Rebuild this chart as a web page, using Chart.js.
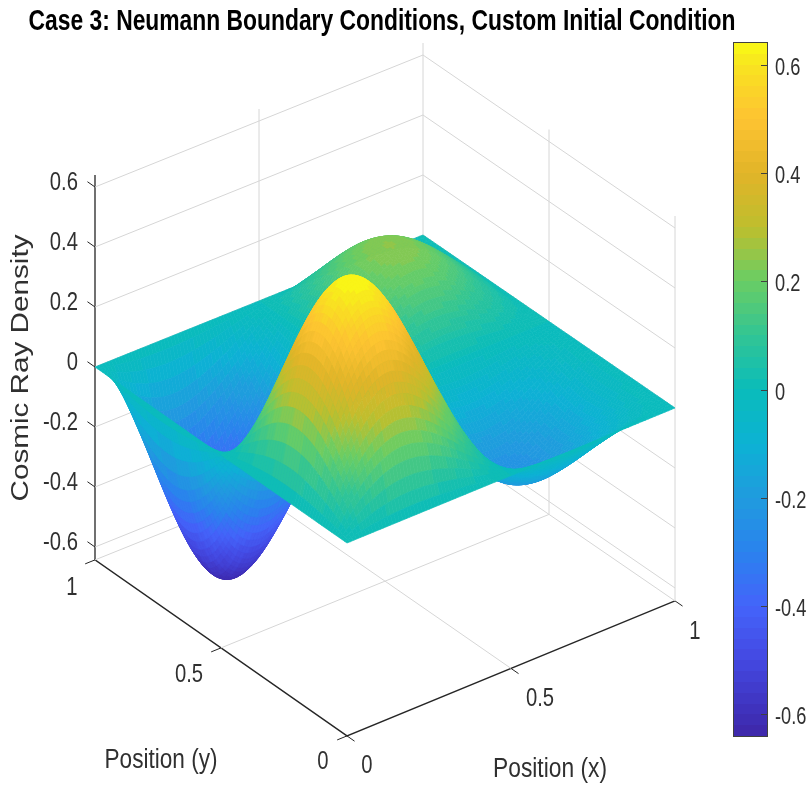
<!DOCTYPE html>
<html>
<head>
<meta charset="utf-8">
<style>
  html, body { margin: 0; padding: 0; background: #fff; }
  #wrap { position: relative; width: 809px; height: 785px; overflow: hidden; }
  canvas { position: absolute; top: 0; }
  #surf { left: 0; }
  #cbar { left: 700px; }
</style>
<script src="https://cdn.jsdelivr.net/npm/chart.js@4/dist/chart.umd.min.js"></script>
</head>
<body>
<div id="wrap">
  <canvas id="surf" width="809" height="785"></canvas>
  <canvas id="cbar" width="109" height="785"></canvas>
</div>
<script>
const titleText = "Case 3: Neumann Boundary Conditions, Custom Initial Condition";
const xLabel = "Position (x)";
const yLabel = "Position (y)";
const zLabel = "Cosmic Ray Density";

const xTicks = [0, 0.5, 1];
const yTicks = [0, 0.5, 1];
const zTicks = [-0.6, -0.4, -0.2, 0, 0.2, 0.4, 0.6];
const colorbarTicks = [-0.6, -0.4, -0.2, 0, 0.2, 0.4, 0.6];
const zMin = -0.643;
const zMax = 0.64;

// rows are x = 0, 0.05 .. 1 and columns y = 0, 0.05 .. 1
const surfaceZ = [
  [0,0,0,0,0,0,0,0,0,0,0,0,0,0,0,0,0,0,0,0,0],
  [0,.083,.158,.218,.256,.269,.256,.218,.158,.083,0,-.083,-.158,-.218,-.256,-.269,-.256,-.218,-.158,-.083,0],
  [0,.145,.276,.380,.447,.470,.447,.380,.276,.145,0,-.145,-.276,-.380,-.447,-.470,-.447,-.380,-.276,-.145,0],
  [0,.184,.350,.481,.566,.595,.566,.481,.350,.184,0,-.184,-.350,-.481,-.566,-.595,-.566,-.481,-.350,-.184,0],
  [0,.199,.378,.520,.611,.643,.611,.520,.378,.199,0,-.199,-.378,-.520,-.611,-.643,-.611,-.520,-.378,-.199,0],
  [0,.192,.365,.502,.590,.620,.590,.502,.365,.192,0,-.192,-.365,-.502,-.590,-.620,-.590,-.502,-.365,-.192,0],
  [0,.167,.319,.438,.515,.542,.515,.438,.319,.167,0,-.167,-.319,-.438,-.515,-.542,-.515,-.438,-.319,-.167,0],
  [0,.131,.249,.342,.402,.423,.402,.342,.249,.131,0,-.131,-.249,-.342,-.402,-.423,-.402,-.342,-.249,-.131,0],
  [0,.087,.166,.229,.269,.283,.269,.229,.166,.087,0,-.087,-.166,-.229,-.269,-.283,-.269,-.229,-.166,-.087,0],
  [0,.042,.081,.111,.130,.137,.130,.111,.081,.042,0,-.042,-.081,-.111,-.130,-.137,-.130,-.111,-.081,-.042,0],
  [0,0,0,0,0,0,0,0,0,0,0,0,0,0,0,0,0,0,0,0,0],
  [0,-.032,-.060,-.082,-.096,-.101,-.096,-.082,-.060,-.032,0,.032,.060,.082,.096,.101,.096,.082,.060,.032,0],
  [0,-.055,-.104,-.143,-.168,-.177,-.168,-.143,-.104,-.055,0,.055,.104,.143,.168,.177,.168,.143,.104,.055,0],
  [0,-.069,-.131,-.180,-.213,-.224,-.213,-.180,-.131,-.069,0,.069,.131,.180,.213,.224,.213,.180,.131,.069,0],
  [0,-.075,-.142,-.195,-.230,-.241,-.230,-.195,-.142,-.075,0,.075,.142,.195,.230,.241,.230,.195,.142,.075,0],
  [0,-.072,-.137,-.188,-.222,-.233,-.222,-.188,-.137,-.072,0,.072,.137,.188,.222,.233,.222,.188,.137,.072,0],
  [0,-.063,-.120,-.165,-.194,-.204,-.194,-.165,-.120,-.063,0,.063,.120,.165,.194,.204,.194,.165,.120,.063,0],
  [0,-.049,-.093,-.128,-.151,-.159,-.151,-.128,-.093,-.049,0,.049,.093,.128,.151,.159,.151,.128,.093,.049,0],
  [0,-.033,-.062,-.085,-.100,-.106,-.100,-.085,-.062,-.033,0,.033,.062,.085,.100,.106,.100,.085,.062,.033,0],
  [0,-.016,-.030,-.041,-.048,-.051,-.048,-.041,-.030,-.016,0,.016,.030,.041,.048,.051,.048,.041,.030,.016,0],
  [0,0,0,0,0,0,0,0,0,0,0,0,0,0,0,0,0,0,0,0,0]
];

// colormap: value -> rgb
const cmapValues = [-0.64, -0.6, -0.5, -0.4, -0.3, -0.2, -0.1, 0, 0.1, 0.2, 0.3, 0.4, 0.5, 0.6, 0.64];
const cmapColors = [
  [62,38,168], [62,48,185], [68,72,225], [68,100,250], [42,130,238], [32,155,222], [12,178,212],
  [10,188,186], [50,197,148], [105,205,100], [190,190,45], [225,180,40], [254,195,50], [248,228,32], [249,251,20]
];
const cmapLevels = 64;

function colorFor(z) {
  const lo = cmapValues[0], hi = cmapValues[cmapValues.length - 1];
  let t = (z - lo) / (hi - lo);
  t = Math.max(0, Math.min(0.9999, t));
  t = (Math.floor(t * cmapLevels) + 0.5) / cmapLevels;
  const v = lo + t * (hi - lo);
  let k = 0;
  while (k < cmapValues.length - 2 && v > cmapValues[k + 1]) k++;
  const f = (v - cmapValues[k]) / (cmapValues[k + 1] - cmapValues[k]);
  const a = cmapColors[k], b = cmapColors[k + 1];
  return "rgb(" + Math.round(a[0] + (b[0] - a[0]) * f) + "," + Math.round(a[1] + (b[1] - a[1]) * f) + "," + Math.round(a[2] + (b[2] - a[2]) * f) + ")";
}

// view of the 3d box on the page
function project(x, y, z) {
  return { x: 347 + 328 * x - 252 * y, y: 543 - 135 * x - 176 * y + 3 * x * y - 300 * z };
}

function lineSet(points, color, width) {
  return { type: "scatter", data: points, showLine: true, borderColor: color, borderWidth: width, pointRadius: 0, fill: false };
}

const gridColor = "#d6d6d6";
const axisColor = "#262626";
const datasets = [];

// surface vertices, the plugin below fills between them
const surfacePoints = [];
surfaceZ.forEach((row, i) => row.forEach((z, j) => {
  const p = project(i / 20, j / 20, z);
  surfacePoints.push({ x: p.x, y: p.y, z: z });
}));
datasets.push({ type: "scatter", label: "surface", data: surfacePoints, pointRadius: 0, showLine: false });

// back walls
zTicks.forEach(z => {
  datasets.push(lineSet([project(0, 1, z), project(1, 1, z), project(1, 0, z)], gridColor, 1));
});
[[0.5, 1], [1, 1], [1, 0], [1, 0.5]].forEach(c => {
  datasets.push(lineSet([project(c[0], c[1], zMin), project(c[0], c[1], zMax)], gridColor, 1));
});
// floor
xTicks.slice(1).forEach(x => datasets.push(lineSet([project(x, 0, zMin), project(x, 1, zMin)], gridColor, 1)));
yTicks.slice(1).forEach(y => datasets.push(lineSet([project(0, y, zMin), project(1, y, zMin)], gridColor, 1)));
// axes and ticks
datasets.push(lineSet([project(0, 1, zMax), project(0, 1, zMin), project(0, 0, zMin), project(1, 0, zMin)], axisColor, 1.3));
zTicks.forEach(z => datasets.push(lineSet([project(0, 1, z), project(0, 1.03, z)], axisColor, 1)));
yTicks.forEach(y => datasets.push(lineSet([project(0, y, zMin), project(-0.03, y, zMin)], axisColor, 1)));
xTicks.forEach(x => datasets.push(lineSet([project(x, 0, zMin), project(x, -0.03, zMin)], axisColor, 1)));

function fitText(ctx, text, cx, cy, font, sx, angle, color) {
  ctx.save();
  ctx.font = font;
  ctx.fillStyle = color;
  ctx.textAlign = "center";
  ctx.textBaseline = "middle";
  ctx.translate(cx, cy);
  if (angle) ctx.rotate(angle);
  ctx.scale(sx, 1);
  ctx.fillText(text, 0, 0);
  ctx.restore();
}

function textWidth(ctx, text, font) {
  ctx.save();
  ctx.font = font;
  const w = ctx.measureText(text).width;
  ctx.restore();
  return w;
}

function catmull(a, b, c, d, t) {
  return 0.5 * (2 * b + (c - a) * t + (2 * a - 5 * b + 4 * c - d) * t * t + (3 * b - a - 3 * c + d) * t * t * t);
}

// smooth shading between the grid values, like shading interp
function sampleZ(fi, fj) {
  const n = surfaceZ.length;
  const clampI = k => Math.max(0, Math.min(n - 1, k));
  const i = Math.min(n - 2, Math.floor(fi)), j = Math.min(n - 2, Math.floor(fj));
  const rowAt = r => {
    const row = surfaceZ[clampI(r)];
    return catmull(row[clampI(j - 1)], row[j], row[j + 1], row[clampI(j + 2)], fj - j);
  };
  return catmull(rowAt(i - 1), rowAt(i), rowAt(i + 1), rowAt(i + 2), fi - i);
}

const surfacePlugin = {
  id: "surfacePlugin",
  afterDatasetsDraw(chart) {
    const ctx = chart.ctx;
    const sx = chart.scales.x, sy = chart.scales.y;
    const cells = surfaceZ.length - 1;
    const sub = 5;
    const m = cells * sub;
    const zs = [], px = [], py = [];
    for (let a = 0; a <= m; a++) {
      zs.push([]); px.push([]); py.push([]);
      for (let b = 0; b <= m; b++) {
        const z = sampleZ(a / sub, b / sub);
        const p = project(a / m, b / m, z);
        zs[a].push(z);
        px[a].push(sx.getPixelForValue(p.x));
        py[a].push(sy.getPixelForValue(p.y));
      }
    }
    const off = document.createElement("canvas");
    off.width = chart.width;
    off.height = chart.height;
    const oc = off.getContext("2d");
    oc.lineWidth = 0.7;
    oc.lineJoin = "round";
    for (let a = m - 1; a >= 0; a--) {
      for (let b = m - 1; b >= 0; b--) {
        const col = colorFor((zs[a][b] + zs[a + 1][b] + zs[a + 1][b + 1] + zs[a][b + 1]) / 4);
        oc.fillStyle = col;
        oc.strokeStyle = col;
        oc.beginPath();
        oc.moveTo(px[a][b], py[a][b]);
        oc.lineTo(px[a + 1][b], py[a + 1][b]);
        oc.lineTo(px[a + 1][b + 1], py[a + 1][b + 1]);
        oc.lineTo(px[a][b + 1], py[a][b + 1]);
        oc.closePath();
        oc.fill();
        oc.stroke();
      }
    }
    ctx.save();
    ctx.filter = "blur(0.6px)";
    ctx.drawImage(off, 0, 0);
    ctx.restore();

    // labels
    const tickFont = '25px "Liberation Sans"';
    const tickColor = "#303030";
    zTicks.forEach(z => {
      const p = project(0, 1, z);
      const s = String(z);
      const tw = textWidth(ctx, s, tickFont) * 0.81;
      fitText(ctx, s, sx.getPixelForValue(78 - tw / 2), sy.getPixelForValue(p.y - 4), tickFont, 0.81, 0, tickColor);
    });
    const yPos = [[323, 762], [189, 675], [72, 588]];
    yTicks.forEach((v, k) => fitText(ctx, String(v), yPos[k][0], yPos[k][1], tickFont, 0.81, 0, tickColor));
    const xPos = [[367, 766], [540, 699], [695, 632]];
    xTicks.forEach((v, k) => fitText(ctx, String(v), xPos[k][0], xPos[k][1], tickFont, 0.81, 0, tickColor));

    const labelFont = '27px "Liberation Sans"';
    fitText(ctx, yLabel, 161, 761, labelFont, 113 / textWidth(ctx, yLabel, labelFont), 0, tickColor);
    fitText(ctx, xLabel, 550, 770, labelFont, 114 / textWidth(ctx, xLabel, labelFont), 0, tickColor);
    const zFont = '23px "Liberation Sans"';
    fitText(ctx, zLabel, 22, 368, zFont, 267 / textWidth(ctx, zLabel, zFont), -Math.PI / 2, tickColor);
    const titleFont = 'bold 29px "Liberation Sans"';
    fitText(ctx, titleText, 382, 22, titleFont, 707 / textWidth(ctx, titleText, titleFont), 0, "#000");
  }
};

new Chart(document.getElementById("surf"), {
  type: "scatter",
  data: { datasets: datasets },
  options: {
    responsive: false,
    animation: false,
    parsing: false,
    normalized: true,
    layout: { padding: 0 },
    plugins: { legend: { display: false }, tooltip: { enabled: false } },
    scales: {
      x: { type: "linear", display: false, min: 0, max: 809 },
      y: { type: "linear", display: false, min: 0, max: 785, reverse: true }
    }
  },
  plugins: [surfacePlugin]
});

const colorbarPlugin = {
  id: "colorbarPlugin",
  afterDatasetsDraw(chart) {
    const ctx = chart.ctx, a = chart.chartArea, sc = chart.scales.y;
    const font = '24px "Liberation Sans"';
    ctx.save();
    ctx.strokeStyle = "#404040";
    ctx.lineWidth = 1;
    colorbarTicks.forEach(v => {
      const py = Math.round(sc.getPixelForValue(v)) + 0.5;
      ctx.beginPath();
      ctx.moveTo(a.right - 6, py);
      ctx.lineTo(a.right, py);
      ctx.stroke();
      const s = String(v);
      const tw = textWidth(ctx, s, font) * 0.76;
      fitText(ctx, s, a.right + 8 + tw / 2, py + 3, font, 0.76, 0, "#303030");
    });
    ctx.strokeRect(a.left - 0.5, a.top - 0.5, a.right - a.left + 1, a.bottom - a.top + 1);
    ctx.restore();
  }
};

const barCanvas = document.getElementById("cbar");
const barGrad = barCanvas.getContext("2d").createLinearGradient(0, 736, 0, 43);
for (let k = 0; k < cmapLevels; k++) {
  const z = cmapValues[0] + (k + 0.5) / cmapLevels * (cmapValues[cmapValues.length - 1] - cmapValues[0]);
  barGrad.addColorStop(k / cmapLevels, colorFor(z));
  barGrad.addColorStop((k + 1) / cmapLevels, colorFor(z));
}

new Chart(barCanvas, {
  type: "bar",
  data: {
    labels: ["colorbar"],
    datasets: [{ data: [[-zMax, zMax]], backgroundColor: barGrad, barPercentage: 1, categoryPercentage: 1, borderWidth: 0 }]
  },
  options: {
    responsive: false,
    animation: false,
    layout: { padding: { left: 34, top: 43, bottom: 49, right: 0 } },
    plugins: { legend: { display: false }, tooltip: { enabled: false } },
    scales: {
      x: { display: false },
      y: {
        position: "right",
        min: -zMax,
        max: zMax,
        border: { display: false },
        grid: { display: false, drawTicks: false },
        afterBuildTicks(scale) { scale.ticks = colorbarTicks.map(v => ({ value: v })); },
        afterFit(scale) { scale.width = 42; },
        ticks: { display: false }
      }
    }
  },
  plugins: [colorbarPlugin]
});
</script>
</body>
</html>
